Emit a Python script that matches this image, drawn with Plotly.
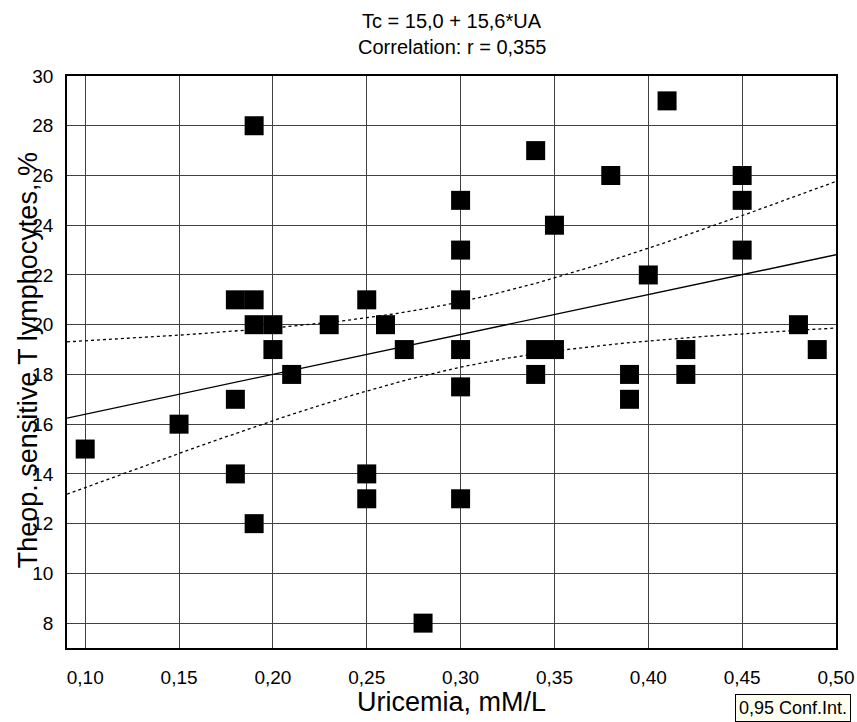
import numpy as np
import plotly.graph_objects as go

# Data (Uricemia mM/L vs Theop. sensitive T lymphocytes %)
uricemia = [0.10, 0.15, 0.18, 0.19, 0.19, 0.19, 0.20, 0.20, 0.21, 0.18, 0.18, 0.19,
            0.23, 0.25, 0.25, 0.25, 0.26, 0.27, 0.28,
            0.30, 0.30, 0.30, 0.30, 0.30, 0.30,
            0.34, 0.34, 0.35, 0.34, 0.35, 0.38, 0.39, 0.39, 0.40, 0.41, 0.42, 0.42,
            0.45, 0.45, 0.45, 0.48, 0.49]
tcells = [15, 16, 21, 21, 28, 20, 20, 19, 18, 17, 14, 12,
          20, 21, 14, 13, 20, 19, 8,
          25, 23, 21, 19, 17.5, 13,
          27, 19, 19, 18, 24, 26, 18, 17, 22, 29, 19, 18,
          26, 25, 23, 20, 19]

x_ticks = [0.10, 0.15, 0.20, 0.25, 0.30, 0.35, 0.40, 0.45, 0.50]
x_labels = ["0,10", "0,15", "0,20", "0,25", "0,30", "0,35", "0,40", "0,45", "0,50"]
y_ticks = [8, 10, 12, 14, 16, 18, 20, 22, 24, 26, 28, 30]

x_range = [0.0903, 0.50]
y_range = [7, 30]

title_line1 = "Tc = 15,0 + 15,6*UA"
title_line2 = "Correlation: r = 0,355"

# Regression and 95% confidence band computed from the data
x = np.array(uricemia)
y = np.array(tcells)
n = len(x)
xbar, ybar = x.mean(), y.mean()
sxx = ((x - xbar) ** 2).sum()
slope = ((x - xbar) * (y - ybar)).sum() / sxx
intercept = ybar - slope * xbar
resid = y - (intercept + slope * x)
s = np.sqrt((resid ** 2).sum() / (n - 2))
t = 2.021
xl = np.linspace(x_range[0], x_range[1], 100)
yl = intercept + slope * xl
half = t * s * np.sqrt(1.0 / n + (xl - xbar) ** 2 / sxx)

fig = go.Figure()
fig.add_trace(go.Scatter(x=xl, y=yl, mode="lines",
                         line=dict(color="black", width=1.3), showlegend=False))
fig.add_trace(go.Scatter(x=xl, y=yl + half, mode="lines",
                         line=dict(color="black", width=1.3, dash="3px,3px"),
                         showlegend=False))
fig.add_trace(go.Scatter(x=xl, y=yl - half, mode="lines",
                         line=dict(color="black", width=1.3, dash="3px,3px"),
                         showlegend=False))
fig.add_trace(go.Scatter(x=uricemia, y=tcells, mode="markers",
                         marker=dict(symbol="square", size=19, color="black",
                                     line=dict(width=0)),
                         showlegend=False))

font_family = "Liberation Sans, Arial, sans-serif"

fig.update_layout(
    width=857, height=722,
    margin=dict(l=67, r=21, t=76, b=74, autoexpand=False),
    paper_bgcolor="white", plot_bgcolor="white",
    font=dict(family=font_family, color="black", size=18),
    showlegend=False,
    xaxis=dict(range=x_range, tickvals=x_ticks, ticktext=x_labels,
               showgrid=True, gridcolor="#404040", gridwidth=1,
               showline=True, linecolor="black", linewidth=1.5, mirror=True,
               ticks="", ticklabelstandoff=11, zeroline=False,
               tickfont=dict(size=19)),
    yaxis=dict(range=y_range, tickvals=y_ticks,
               showgrid=True, gridcolor="#404040", gridwidth=1,
               showline=True, linecolor="black", linewidth=1.5, mirror=True,
               ticks="", ticklabelstandoff=8, zeroline=False,
               tickfont=dict(size=19)),
    annotations=[
        dict(text=title_line1, xref="paper", yref="paper", x=0.5, y=1.0955,
             xanchor="center", yanchor="middle", showarrow=False,
             font=dict(size=20)),
        dict(text=title_line2, xref="paper", yref="paper", x=0.5, y=1.0501,
             xanchor="center", yanchor="middle", showarrow=False,
             font=dict(size=20)),
        dict(text="Uricemia, mM/L", xref="paper", yref="paper", x=0.5, y=-0.094,
             xanchor="center", yanchor="middle", showarrow=False,
             font=dict(size=27)),
        dict(text="Theop. sensitive T lymphocytes, %", xref="paper", yref="paper",
             x=-0.0507, y=0.503, xanchor="center", yanchor="middle",
             textangle=-90, showarrow=False, font=dict(size=27)),
        dict(text="0,95 Conf.Int.", xref="paper", yref="paper", x=0.8687, y=-0.0798,
             xanchor="left", yanchor="top", showarrow=False,
             font=dict(size=18), bgcolor="#FFFFF0", bordercolor="black",
             borderwidth=1, borderpad=3),
    ],
)

fig.write_html("out.html")
